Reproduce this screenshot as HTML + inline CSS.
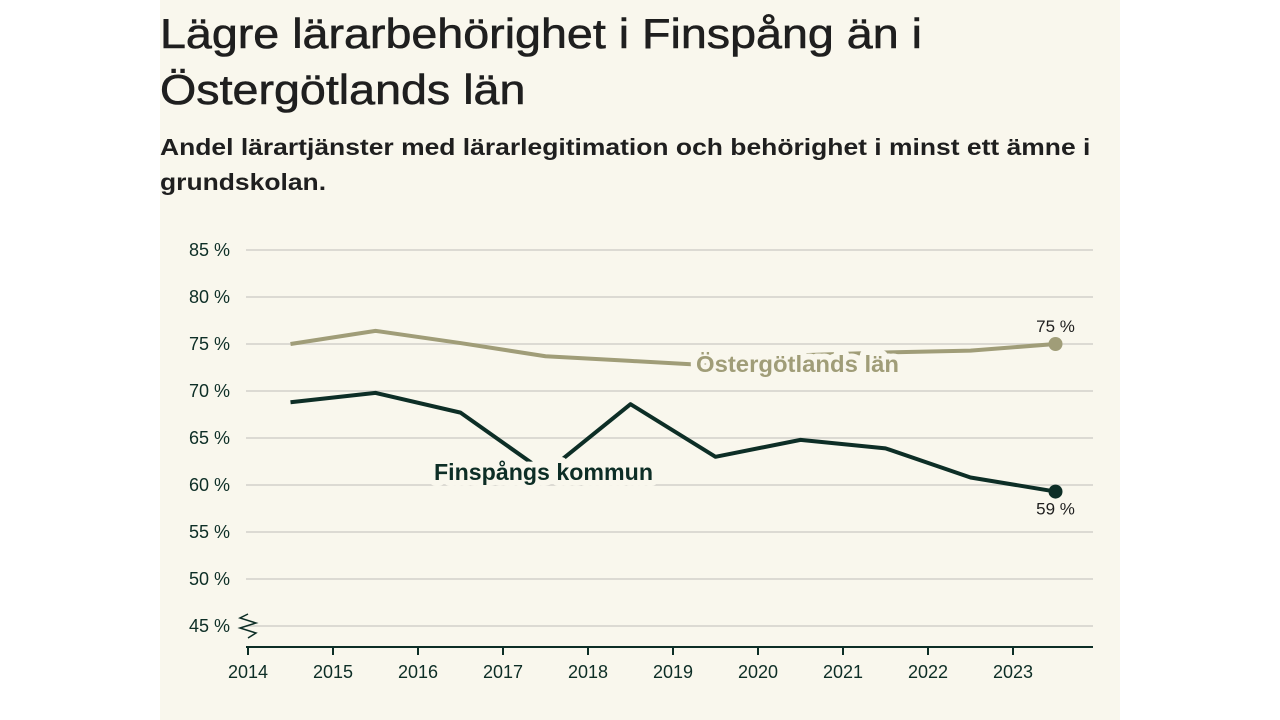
<!DOCTYPE html>
<html><head><meta charset="utf-8"><style>
body{margin:0;width:1280px;height:720px;background:#fff;overflow:hidden;font-family:"Liberation Sans",sans-serif}
#panel{position:absolute;left:160px;top:0;width:960px;height:720px;background:#f9f7ed}
h1{position:absolute;left:160px;top:6px;margin:0;font-size:42px;font-weight:normal;color:#1f1f1f;line-height:56px;white-space:nowrap;transform:scaleX(1.11);transform-origin:0 0;-webkit-text-stroke:0.6px #1f1f1f}
h2{position:absolute;left:160px;top:130px;margin:0;font-size:23px;font-weight:bold;color:#1f1f1f;line-height:35px;white-space:nowrap;transform:scaleX(1.15);transform-origin:0 0}
svg{position:absolute;left:0;top:0}
</style></head><body>
<div id="panel"></div>
<h1>Lägre lärarbehörighet i Finspång än i<br>Östergötlands län</h1>
<h2>Andel lärartjänster med lärarlegitimation och behörighet i minst ett ämne i<br>grundskolan.</h2>
<svg id="chart" width="1280" height="720"></svg>
<script>
const years=[2014,2015,2016,2017,2018,2019,2020,2021,2022,2023];
const yTicks=[45,50,55,60,65,70,75,80,85];
const ostergotland=[75.0,76.4,75.1,73.7,73.2,72.7,73.8,74.1,74.3,75.0];
const finspang=[68.8,69.8,67.7,61.3,68.6,63.0,64.8,63.9,60.8,59.3];
const NS="http://www.w3.org/2000/svg";
const svg=document.getElementById('chart');
const x=v=>248+(v-2014)*85;
const y=v=>626-(v-45)*9.4;
function el(t,a,txt){const e=document.createElementNS(NS,t);for(const k in a)e.setAttribute(k,a[k]);if(txt!==undefined)e.textContent=txt;svg.appendChild(e);return e;}
yTicks.forEach(t=>{
 const g=el('line',{x1:246,x2:1093,y1:y(t),y2:y(t),stroke:'#dcdad3','stroke-width':2});
 
 
 const l=el('text',{x:230,y:y(t)+6,'text-anchor':'end','font-size':18,fill:'#0d2e26'},t+' %');
 
 
});
const ax=el('line',{x1:246,x2:1093,y1:647,y2:647,stroke:'#0d2e26','stroke-width':2});


const zz=el('polyline',{points:'248,614 240,618 256,623 240,628 256,633 248,638',fill:'none',stroke:'#0d2e26','stroke-width':1.5});


years.forEach(yr=>{
 const tk=el('line',{x1:x(yr),x2:x(yr),y1:647,y2:655,stroke:'#0d2e26','stroke-width':2});
 
 
 const t=el('text',{x:x(yr),y:678,'text-anchor':'middle','font-size':18,fill:'#0d2e26'},yr);
 
 
});
function series(vals,color,name){
 const pts=vals.map((v,i)=>x(years[i]+0.5)+','+y(v)).join(' ');
 const p=el('polyline',{points:pts,fill:'none',stroke:color,'stroke-width':4,'stroke-linejoin':'round'});
 
 
 const n=vals.length-1;
 const c=el('circle',{cx:x(years[n]+0.5),cy:y(vals[n]),r:7,fill:color});
 
 
}
series(ostergotland,'#a09d78','ostergotland');
series(finspang,'#0d2e26','finspang');
function lab(txt,xx,yy,w,color,name){
 const t=el('text',{x:xx,y:yy,'font-size':23,'font-weight':'bold',fill:color,stroke:'#f9f7ed','stroke-width':12,'paint-order':'stroke','stroke-linejoin':'round',textLength:w,lengthAdjust:'spacingAndGlyphs'},txt);
 
 
}
lab('Östergötlands län',696,372,203,'#a09d78','ostergotland-label');
lab('Finspångs kommun',434,480,219,'#0d2e26','finspang-label');
const n=years.length-1;
const v1=el('text',{x:x(years[n]+0.5),y:y(ostergotland[n])-12,'text-anchor':'middle','font-size':17,fill:'#1f1f1f'},Math.round(ostergotland[n])+' %');


const v2=el('text',{x:x(years[n]+0.5),y:y(finspang[n])+23,'text-anchor':'middle','font-size':17,fill:'#1f1f1f'},Math.round(finspang[n])+' %');


</script>
</body></html>
